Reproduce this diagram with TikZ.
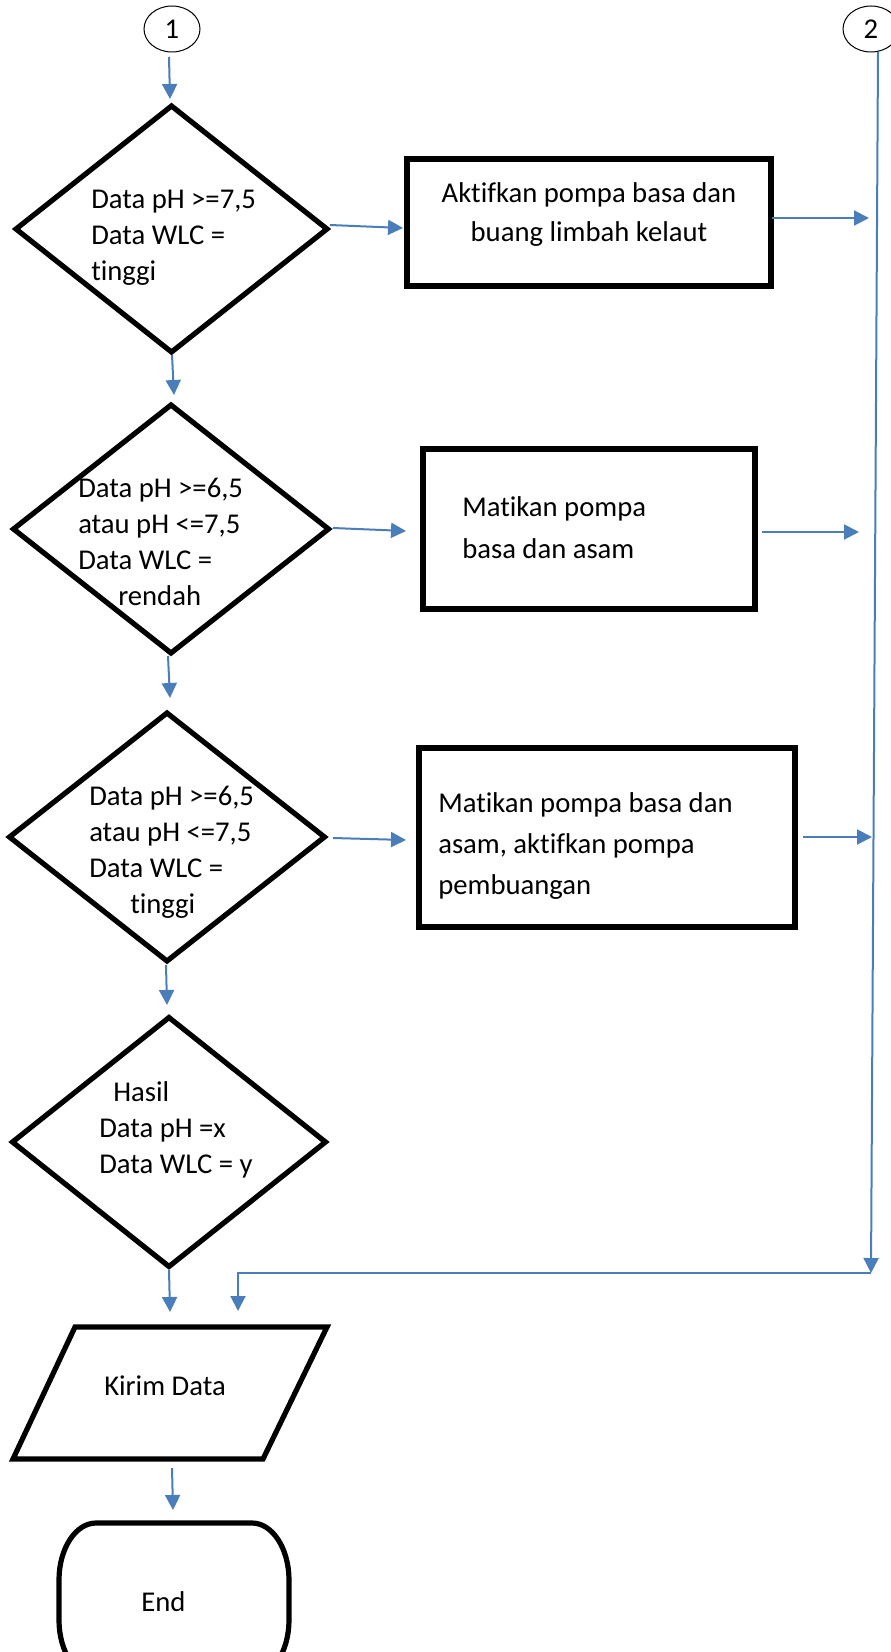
\documentclass[tikz,border=0pt]{standalone}
\usepackage{fontspec}
\setmainfont{Carlito}[Ligatures=NoCommon]
\usetikzlibrary{shapes.geometric, arrows.meta, calc}
\definecolor{flowblue}{RGB}{74,126,187}

\begin{document}
\begin{tikzpicture}[x=0.75pt, y=-0.75pt,
  box/.style={draw, line width=3.9pt, inner sep=0pt, outer sep=0pt, line join=miter},
  decision/.style={box, diamond},
  process/.style={box, rectangle},
  frame/.style={inner sep=0pt, outer sep=0pt},
  connector/.style={ellipse, draw, line width=0.75pt, inner sep=0pt, outer sep=0pt,
    minimum width=42pt, minimum height=34.5pt, font=\fontsize{21.5}{26}\selectfont},
  lbl/.style={inner sep=0pt, align=left, anchor=base west, font=\fontsize{21.5}{27}\selectfont},
  arr/.style={flowblue, line width=1.5pt, -{Triangle[length=11.25pt, width=11.25pt]}},
]
\useasboundingbox (0,0) rectangle (891,1652);

% off-page connectors
\node[connector] (c1) at (172,29) {1};
\node[connector] (c2) at (871,29) {2};

% decisions
\node[decision, minimum width=233.25pt, minimum height=184.5pt] (d1) at (171.5,229) {};
\node[decision, minimum width=236.25pt, minimum height=186pt] (d2) at (171,529) {};
\node[decision, minimum width=236.25pt, minimum height=186pt] (d3) at (167,837) {};
\node[decision, minimum width=234.75pt, minimum height=186.75pt] (d4) at (169,1142) {};

% labels are placed by the baseline of their last line
\node[lbl] (t1) at (91,280) {Data pH >=7,5\\Data WLC =\\tinggi};
\node[lbl] (t2) at (78,605) {Data pH >=6,5\\atau pH <=7,5\\Data WLC =\\\hspace*{30pt}rendah};
\node[lbl] (t3) at (89,913) {Data pH >=6,5\\atau pH <=7,5\\Data WLC =\\\hspace*{30.75pt}tinggi};
\node[lbl] (t4) at (99,1173) {\hspace*{10.5pt}Hasil\\Data pH =x\\Data WLC = y};

% actions
\node[process, minimum width=273pt, minimum height=95.25pt] (r1) at (589,222.5) {};
\node[process, minimum width=249pt, minimum height=120pt] (r2) at (589,529) {};
\node[process, minimum width=282pt, minimum height=134.25pt] (r3) at (607,837.5) {};

\node[lbl, align=center, anchor=base, font=\fontsize{21.5}{29.25}\selectfont] (t5) at (589,241)
  {Aktifkan pompa basa dan\\buang limbah kelaut};
\node[lbl, font=\fontsize{21.5}{31.5}\selectfont] (t6) at (462,558.5) {Matikan pompa\\basa dan asam};
\node[lbl, font=\fontsize{21.5}{30.75}\selectfont] (t7) at (438,894.5)
  {Matikan pompa basa dan\\asam, aktifkan pompa\\pembuangan};

% output
\node[frame, minimum width=235.5pt, minimum height=99pt] (p) at (170,1393) {};
\draw[box] (p.south west) -- ($(p.north west)+(62,0)$) -- (p.north east)
  -- ($(p.south east)+(-64,0)$) -- cycle;
\node[lbl] (t8) at (104,1395) {Kirim Data};

% terminator
\node[frame, minimum width=172.5pt, minimum height=115.5pt] (e) at (174,1600) {};
\draw[box, line join=round] (96,1523) -- (252,1523)
  .. controls (272.4,1523) and (289,1548.5) .. (289,1580) -- (289,1620)
  .. controls (289,1651.5) and (272.4,1677) .. (252,1677) -- (96,1677)
  .. controls (75.6,1677) and (59,1651.5) .. (59,1620) -- (59,1580)
  .. controls (59,1548.5) and (75.6,1523) .. (96,1523) -- cycle;
\node[lbl] (t9) at (141,1611) {End};

% main flow
\draw[arr] ($(c1.south)+(-3,5)$) -- ($(d1.north)+(-1.5,-7)$);
\draw[arr] ($(d1.south)+(0.5,3)$) -- ($(d2.north)+(3,-10)$);
\draw[arr] ($(d2.south)+(-3,3)$) -- ($(d3.north)+(3,-15)$);
\draw[arr] ($(d3.south)+(-1,4)$) -- ($(d4.north)+(-2,-12.5)$);
\draw[arr] ($(d4.south)+(0,3.5)$) -- ($(p.north)+(0,-15)$);
\draw[arr] ($(p.south)+(2,9)$) -- ($(e.north)+(-1,-13)$);

% branches
\draw[arr] ($(d1.east)+(3,-4)$) -- ($(r1.west)+(-4,5.5)$);
\draw[arr] ($(d2.east)+(4.5,-1)$) -- ($(r2.west)+(-17,2)$);
\draw[arr] ($(d3.east)+(8.5,1)$) -- ($(r3.west)+(-13,2.5)$);
\draw[arr] ($(r1.east)+(1,-4.5)$) -- ($(r1.east)+(98,-4.5)$);
\draw[arr] ($(r2.east)+(7,3)$) -- ($(r2.east)+(104,3)$);
\draw[arr] ($(r3.east)+(8,-0.5)$) -- ($(r3.east)+(77,-0.5)$);

% return line
\coordinate (rb) at (871,1273);
\draw[arr] ($(c2.south)+(7,0)$) -- (rb);
\draw[arr] (rb) -| ($(p.north)+(68,-16)$);
\end{tikzpicture}
\end{document}
